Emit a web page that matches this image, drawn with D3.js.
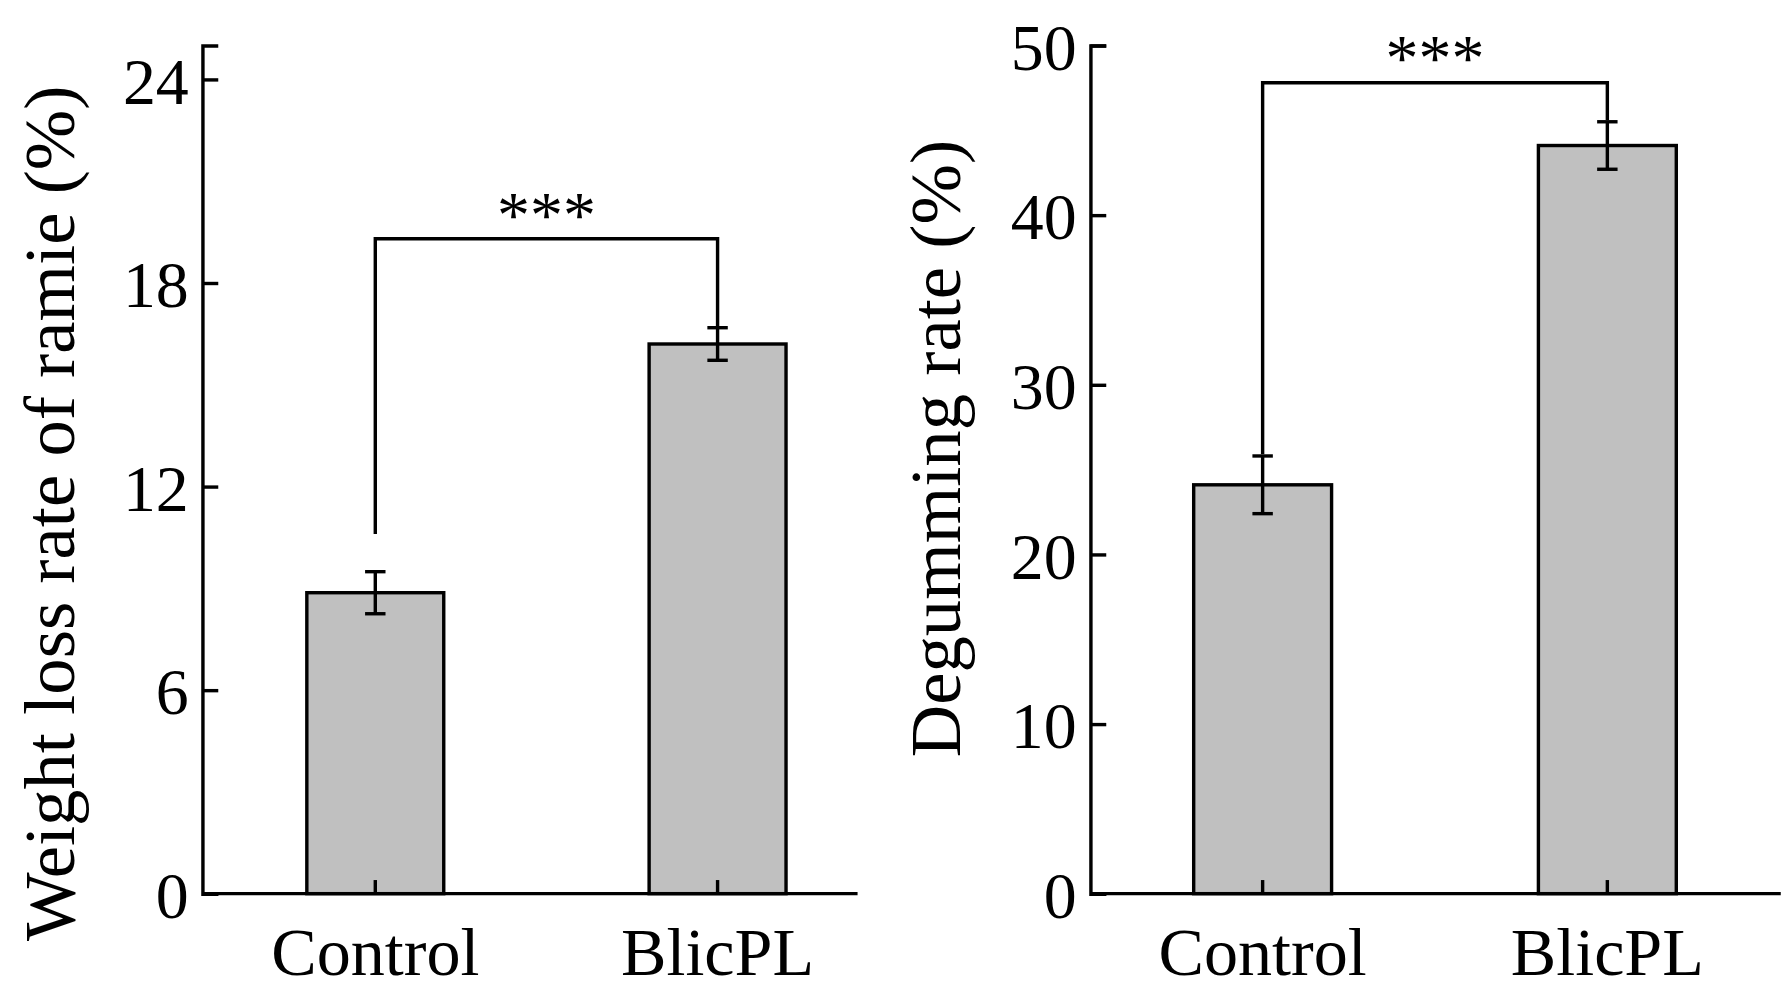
<!DOCTYPE html>
<html><head><meta charset="utf-8">
<script src="https://cdn.jsdelivr.net/npm/d3@7"></script>
<style>body{margin:0;background:#fff} text{font-family:"Liberation Serif","Times New Roman",serif;fill:#000}</style>
</head><body>
<script>
var categories = ["Control", "BlicPL"];
var weightLoss = [8.87, 16.2];
var weightErr = [0.62, 0.48];
var degumming = [24.1, 44.1];
var degumErr = [1.7, 1.4];
var weightTicks = [0, 6, 12, 18, 24];
var degumTicks = [0, 10, 20, 30, 40, 50];

var svg = d3.select("body").append("svg")
    .attr("width", 1781).attr("height", 997)
    .attr("viewBox", "0 0 1568 878");

function panel(o) {
    var g = svg.append("g");
    var x = d3.scaleBand().domain(categories).range([o.b0, o.b1]).paddingInner(0.6).paddingOuter(0);
    var y = d3.scaleLinear().domain([0, o.ymax]).range([787, 40]);

    g.selectAll(".bar").data(o.vals).enter().append("rect")
        .attr("x", function(d, i) { return x(categories[i]); })
        .attr("width", x.bandwidth())
        .attr("y", function(d) { return y(d); })
        .attr("height", function(d) { return y(0) - y(d); })
        .attr("fill", "#c0c0c0").attr("stroke", "#000").attr("stroke-width", 3);

    // error bars
    o.vals.forEach(function(v, i) {
        var cx = x(categories[i]) + x.bandwidth() / 2;
        var e = o.errs[i];
        g.append("line").attr("x1", cx).attr("x2", cx).attr("y1", y(v - e)).attr("y2", y(v + e)).attr("stroke", "#000").attr("stroke-width", 3);
        [v - e, v + e].forEach(function(t) {
            g.append("line").attr("x1", cx - 9).attr("x2", cx + 9).attr("y1", y(t)).attr("y2", y(t)).attr("stroke", "#000").attr("stroke-width", 3);
        });
    });

    var ya = g.append("g").attr("transform", "translate(" + o.x0 + ",0)")
        .call(d3.axisRight(y).tickValues(o.ticks).tickSize(14).tickFormat(d3.format("d")));
    ya.select(".domain").attr("stroke-width", 3);
    ya.selectAll("line").attr("stroke-width", 3);
    ya.selectAll("text").attr("x", -12).attr("text-anchor", "end").attr("font-size", 58).attr("dy", "0.36em");

    var xa = g.append("g").attr("transform", "translate(0,787)")
        .call(d3.axisTop(x).tickSize(12).tickSizeOuter(0));
    xa.select(".domain").attr("stroke-width", 3).attr("d", "M" + o.x0 + ",0H" + o.x1);
    xa.selectAll("line").attr("stroke-width", 3);
    xa.selectAll("text").attr("y", 50).attr("dy", "0.36em").attr("font-size", 60).attr("text-anchor", "middle");

    // significance bracket
    var c0 = x(categories[0]) + x.bandwidth() / 2, c1 = x(categories[1]) + x.bandwidth() / 2;
    var top = y(o.brTop);
    g.append("path").attr("fill", "none").attr("stroke", "#000").attr("stroke-width", 3)
        .attr("d", "M" + c0 + "," + y(o.brL) + "V" + top + "H" + c1 + "V" + y(o.brR));
    g.append("text").attr("x", (c0 + c1) / 2).attr("y", top - 2).attr("text-anchor", "middle")
        .attr("font-size", 58).text("***");

    g.append("text").attr("transform", "translate(" + o.lx + "," + o.ly + ") rotate(-90)")
        .attr("text-anchor", "middle").attr("font-size", 64).attr("dy", "0.36em").text(o.label);
}

panel({x0: 178, x1: 755, b0: 270, b1: 692, ymax: 25, vals: weightLoss, errs: weightErr, ticks: weightTicks,
       brTop: 19.3, brL: 10.6, brR: 16.7, lx: 42, ly: 452, label: "Weight loss rate of ramie (%)"});
panel({x0: 960, x1: 1568, b0: 1051, b1: 1476, ymax: 50, vals: degumming, errs: degumErr, ticks: degumTicks,
       brTop: 47.8, brL: 25.9, brR: 45.6, lx: 822, ly: 395, label: "Degumming rate (%)"});
</script>
</body></html>
